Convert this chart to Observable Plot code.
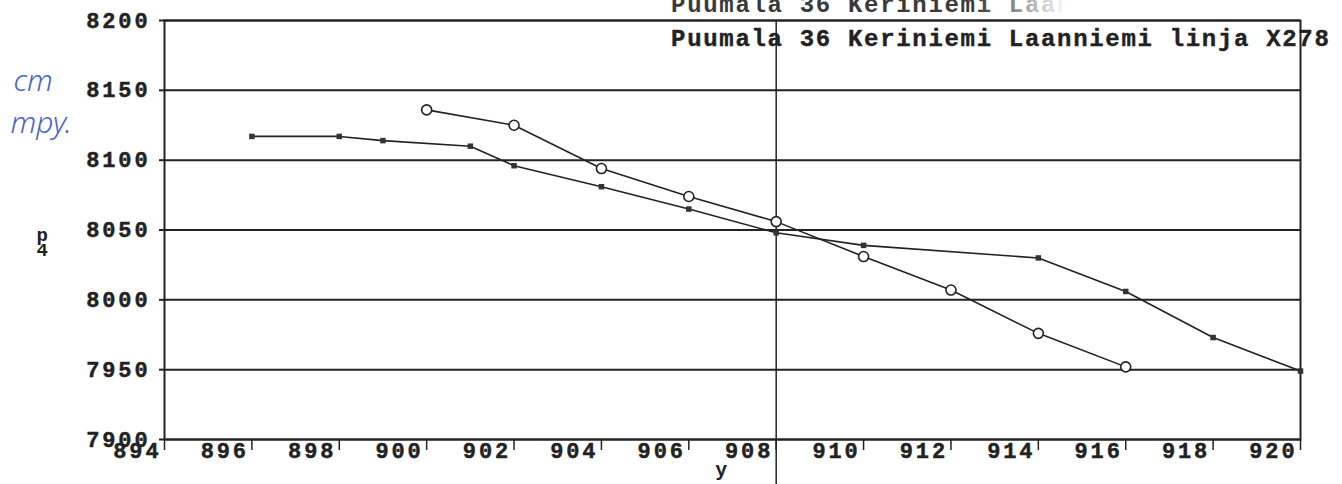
<!DOCTYPE html>
<html>
<head>
<meta charset="utf-8">
<script src="https://cdn.jsdelivr.net/npm/d3@7"></script>
<script src="https://cdn.jsdelivr.net/npm/@observablehq/plot@0.6"></script>
<style>
  html, body { margin: 0; padding: 0; background: white; }
  svg text { letter-spacing: 0.13em; }
  g[font-size="22"] text { stroke: #222; stroke-width: 0.45px; }
  g[font-size="24"] text { letter-spacing: 0.07em; stroke-width: 0.4px; }
  g[font-size="30"] text { letter-spacing: 0; }
</style>
</head>
<body>
<div id="chart"></div>
<script>
// ---- data ----
const title = "Puumala 36 Keriniemi Laanniemi linja X278";
const xLabel = "y";
const yLabel = "p\n4";
const noteUnit = "cm";
const noteRate = "mpy.";
const xTicks = [894, 896, 898, 900, 902, 904, 906, 908, 910, 912, 914, 916, 918, 920];
const yTicks = [7900, 7950, 8000, 8050, 8100, 8150, 8200];
const markerX = [908];

const squareX = [896, 898, 899, 901, 902, 904, 906, 908, 910, 914, 916, 918, 920];
const squareY = [8117, 8117, 8114, 8110, 8096, 8081, 8065, 8048, 8039, 8030, 8006, 7973, 7949];
const circleX = [900, 902, 904, 906, 908, 910, 912, 914, 916];
const circleY = [8136, 8125, 8094, 8074, 8056, 8031, 8007, 7976, 7952];

const squares = squareX.map((x, i) => ({x, y: squareY[i]}));
const circles = circleX.map((x, i) => ({x, y: circleY[i]}));

const ink = "#222";

const chart = Plot.plot({
  width: 1342,
  height: 484,
  marginLeft: 164,
  marginRight: 42,
  marginTop: 20,
  marginBottom: 45,
  x: {domain: [894, 920], label: null},
  y: {domain: [7900, 8200], label: null},
  style: {fontFamily: "Liberation Mono, DejaVu Sans Mono, monospace", fontWeight: "bold", background: "white", color: ink, overflow: "hidden"},
  marks: [
    Plot.gridY(yTicks, {stroke: ink, strokeOpacity: 1, strokeWidth: 2}),
    Plot.axisY(yTicks, {label: null, tickSize: 5, tickPadding: 9, fontSize: 22, strokeWidth: 2, tickFormat: d => String(d)}),
    Plot.axisX(xTicks, {label: null, tickSize: 11, strokeWidth: 1.5, tickFormat: () => ""}),
    Plot.axisX(xTicks, {label: null, tickSize: 0, tickPadding: 3, textAnchor: "end", dx: -3, fontSize: 22, tickFormat: d => String(d)}),
    Plot.frame({stroke: ink, strokeWidth: 2}),
    Plot.ruleX(markerX, {y1: yTicks[yTicks.length - 1], y2: 7860, stroke: ink, strokeWidth: 1.5, clip: false}),
    Plot.line(squares, {x: "x", y: "y", stroke: ink, strokeWidth: 1.6}),
    Plot.dot(squares, {x: "x", y: "y", symbol: "square", r: 3.1, fill: "#333", stroke: "none"}),
    Plot.line(circles, {x: "x", y: "y", stroke: ink, strokeWidth: 1.6}),
    Plot.dot(circles, {x: "x", y: "y", r: 5, fill: "white", stroke: ink, strokeWidth: 1.6}),
    // titles
    Plot.text([title], {frameAnchor: "top-right", text: d => d, textAnchor: "end", lineAnchor: "bottom", dx: 30, dy: 25, fontSize: 24, fill: ink, stroke: ink}),
    Plot.text([title], {frameAnchor: "top-right", text: d => d, textAnchor: "end", lineAnchor: "bottom", dx: 30, dy: -9, fontSize: 24, fill: "#444"}),
    // axis labels
    Plot.text([yLabel], {frameAnchor: "left", text: d => d, textAnchor: "middle", lineAnchor: "middle", dx: -121, dy: 14, fontSize: 19, lineHeight: 0.8, fill: ink}),
    Plot.text([xLabel], {frameAnchor: "bottom", text: d => d, textAnchor: "middle", lineAnchor: "middle", dx: -10, dy: 30, fontSize: 20, fill: ink}),
    // handwritten notes
    Plot.text([noteUnit], {frameAnchor: "top-left", text: d => d, textAnchor: "start", lineAnchor: "bottom", dx: -151, dy: 70, fontSize: 30, fontStyle: "italic", fontWeight: 300, fontFamily: "Noto Sans", fill: "#4b63cc"}),
    Plot.text([noteRate], {frameAnchor: "top-left", text: d => d, textAnchor: "start", lineAnchor: "bottom", dx: -154, dy: 112, fontSize: 30, fontStyle: "italic", fontWeight: 300, fontFamily: "Noto Sans", fill: "#4b63cc"})
  ]
});

document.getElementById("chart").appendChild(chart);

// fade the cropped duplicate title at the top edge, as in the scan
const svg = d3.select(chart);
const titles = svg.selectAll("text").filter(function () { return this.textContent === title; }).nodes();
if (titles.length > 1) {
  const ghost = d3.select(titles[titles.length - 1]);
  const defs = svg.insert("defs", ":first-child");
  const grad = defs.append("linearGradient").attr("id", "ghostFade")
    .attr("gradientUnits", "objectBoundingBox")
    .attr("x1", 0).attr("x2", 1).attr("y1", 0).attr("y2", 0);
  grad.append("stop").attr("offset", 0.46).attr("stop-color", "#3a3a3a");
  grad.append("stop").attr("offset", 0.52).attr("stop-color", "#8a8a8a");
  grad.append("stop").attr("offset", 0.6).attr("stop-color", "#ffffff");
  ghost.attr("fill", "url(#ghostFade)");
}
</script>
</body>
</html>
